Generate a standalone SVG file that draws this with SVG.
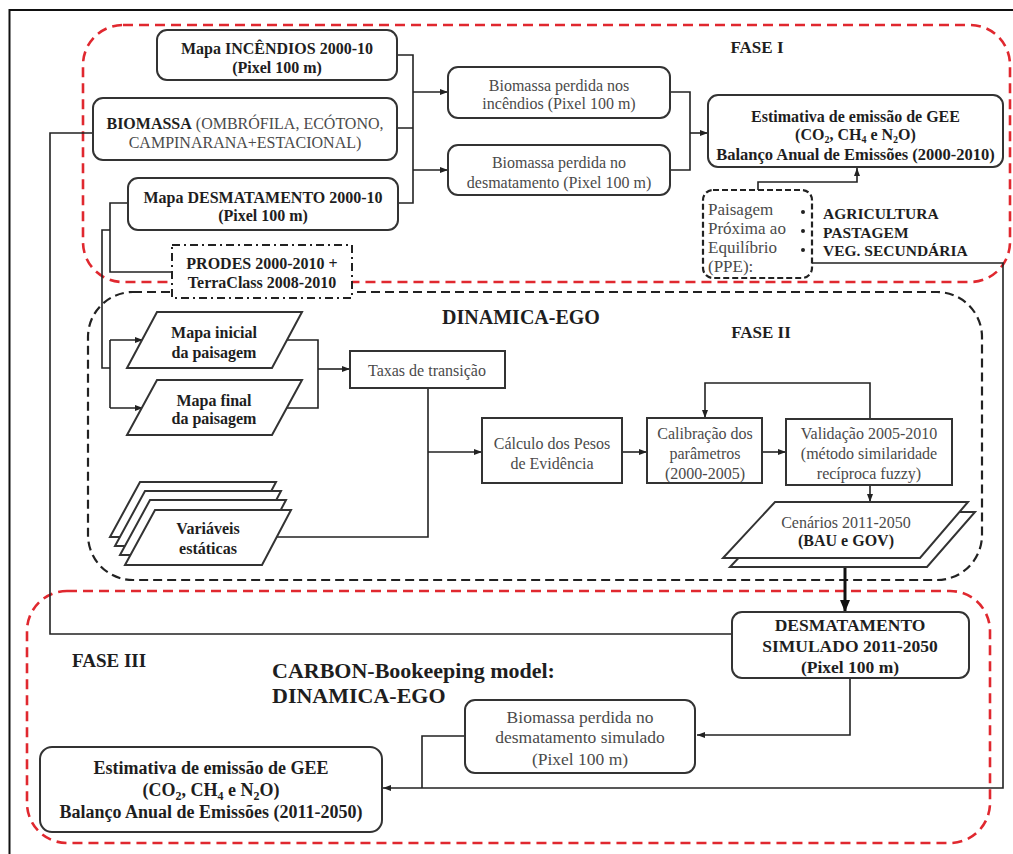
<svg xmlns="http://www.w3.org/2000/svg" width="1013" height="854" viewBox="0 0 1013 854">
<defs>
<style>
text{font-family:"Liberation Serif","Times New Roman",serif;}
.b{font-weight:bold;fill:#1e1e1e;}
.r{fill:#4a4a4a;}
.c{text-anchor:middle;}
.box{fill:#fff;stroke:#333;stroke-width:2;}
.sq{fill:#fff;stroke:#333;stroke-width:2;}
.con{fill:none;stroke:#222;stroke-width:1.6;}
.red{fill:none;stroke:#e0282f;stroke-width:2.6;stroke-dasharray:10 6;}
.blk{fill:none;stroke:#222;stroke-width:2.2;stroke-dasharray:9 5;}
</style>
<marker id="ah" markerWidth="8" markerHeight="6" refX="8" refY="3" orient="auto" markerUnits="userSpaceOnUse"><path d="M0,0 L8,3 L0,6 z" fill="#222"/></marker>
<marker id="ahb" markerWidth="12" markerHeight="10" refX="11" refY="5" orient="auto" markerUnits="userSpaceOnUse"><path d="M0,0 L12,5 L0,10 z" fill="#111"/></marker>
</defs>
<rect x="0" y="0" width="1013" height="854" fill="#fff"/>
<g id="frame"><path d="M9.5,854 V10 H1013" fill="none" stroke="#111" stroke-width="2"/></g>
<g id="containers">
<rect class="red" x="83" y="25" width="927" height="257" rx="40"/>
<rect class="blk" x="88" y="292" width="894" height="288" rx="45"/>
<rect class="red" x="27" y="591" width="963" height="252" rx="40"/>
<text class="b c" x="757" y="53" font-size="17">FASE I</text>
<text class="b c" x="521" y="324" font-size="20">DINAMICA-EGO</text>
<text class="b c" x="761" y="338" font-size="17">FASE II</text>
<text class="b" x="72" y="667" font-size="19">FASE III</text>
<text class="b" x="272" y="678" font-size="22">CARBON-Bookeeping model:</text>
<text class="b" x="272" y="703" font-size="22">DINAMICA-EGO</text>
</g>
<g id="connectors">
<path class="con" d="M397,55 H413 V203 H398 M397,128 H413"/>
<path class="con" d="M413,92 H448" marker-end="url(#ah)"/>
<path class="con" d="M413,170 H448" marker-end="url(#ah)"/>
<path class="con" d="M670,92 H690 V170 H670"/>
<path class="con" d="M690,133 H708" marker-end="url(#ah)"/>
<path class="con" d="M758,190 V182 H857 V168" marker-end="url(#ah)"/>
<path class="con" d="M812,263 H1003 V788 H383" marker-end="url(#ah)"/>
<path class="con" d="M465,736 H422 V788"/>
<path class="con" d="M850,678 V735 H697" marker-end="url(#ah)"/>
<path class="con" d="M731,634 H50 V133 H93"/>
<path class="con" d="M128,203 H110 V272 H172"/>
<path class="con" d="M110,230 H102 V368 H110"/>
<path class="con" d="M110,340 V408"/>
<path class="con" d="M110,340 H143" marker-end="url(#ah)"/>
<path class="con" d="M110,408 H143" marker-end="url(#ah)"/>
<path class="con" d="M287,340 H318 V408 H287"/>
<path class="con" d="M318,369 H350" marker-end="url(#ah)"/>
<path class="con" d="M428,388 V537 H277"/>
<path class="con" d="M428,452 H482" marker-end="url(#ah)"/>
<path class="con" d="M622,452 H647" marker-end="url(#ah)"/>
<path class="con" d="M762,452 H786" marker-end="url(#ah)"/>
<path class="con" d="M870,419 V383 H705 V418" marker-end="url(#ah)"/>
<path class="con" d="M870,485 V502" marker-end="url(#ah)"/>
<path d="M845,560 V611" fill="none" stroke="#111" stroke-width="3" marker-end="url(#ahb)"/>
</g>
<g id="n-incendios">
<rect class="box" x="157" y="30" width="240" height="50" rx="10"/>
<text class="b c" x="277" y="53.5" font-size="16">Mapa INCÊNDIOS  2000-10</text>
<text class="b c" x="277" y="72.5" font-size="16">(Pixel 100 m)</text>
</g>
<g id="n-biomassa">
<rect class="box" x="93" y="98" width="304" height="62" rx="10"/>
<text class="c" x="245" y="128.5" font-size="16"><tspan class="b">BIOMASSA</tspan><tspan class="r"> (OMBRÓFILA, ECÓTONO,</tspan></text>
<text class="r c" x="245" y="147.5" font-size="16">CAMPINARANA+ESTACIONAL)</text>
</g>
<g id="n-desmat">
<rect class="box" x="128" y="178" width="270" height="52" rx="10"/>
<text class="b c" x="263" y="202.5" font-size="16">Mapa DESMATAMENTO  2000-10</text>
<text class="b c" x="263" y="220.5" font-size="16">(Pixel 100 m)</text>
</g>
<g id="n-prodes">
<rect x="172" y="245" width="180" height="53" fill="#fff" stroke="#222" stroke-width="2" stroke-dasharray="8 4 2 4"/>
<text class="b c" x="262" y="268.5" font-size="16">PRODES 2000-2010 +</text>
<text class="b c" x="262" y="287.5" font-size="16">TerraClass  2008-2010</text>
</g>
<g id="n-bio-inc">
<rect class="box" x="448" y="67" width="222" height="51" rx="10"/>
<text class="r c" x="559" y="90.5" font-size="16">Biomassa perdida  nos</text>
<text class="r c" x="559" y="108.5" font-size="16">incêndios  (Pixel 100 m)</text>
</g>
<g id="n-bio-des">
<rect class="box" x="448" y="145" width="222" height="50" rx="10"/>
<text class="r c" x="559" y="167.5" font-size="16">Biomassa perdida  no</text>
<text class="r c" x="559" y="187.5" font-size="16">desmatamento  (Pixel 100 m)</text>
</g>
<g id="n-estim1">
<rect class="box" x="708" y="95" width="295" height="72" rx="10"/>
<text class="b c" x="855.5" y="121.5" font-size="16">Estimativa  de  emissão  de  GEE</text>
<text class="b c" x="855.5" y="139.5" font-size="16">(CO<tspan font-size="10" dy="3">2</tspan><tspan dy="-3">, CH</tspan><tspan font-size="10" dy="3">4</tspan><tspan dy="-3"> e N</tspan><tspan font-size="10" dy="3">2</tspan><tspan dy="-3">O)</tspan></text>
<text class="b c" x="855.5" y="159.5" font-size="16.5">Balanço Anual  de  Emissões  (2000-2010)</text>
</g>
<g id="n-ppe">
<rect x="703" y="190" width="109" height="88" rx="10" fill="#fff" stroke="#222" stroke-width="2.2" stroke-dasharray="6 3"/>
<text class="r" x="708" y="215" font-size="17">Paisagem</text>
<text class="r" x="708" y="234" font-size="17">Próxima ao</text>
<text class="r" x="708" y="253" font-size="17">Equilíbrio</text>
<text class="r" x="708" y="272" font-size="17">(PPE):</text>
<circle cx="803" cy="212" r="2" fill="#222"/>
<circle cx="803" cy="231" r="2" fill="#222"/>
<circle cx="803" cy="250" r="2" fill="#222"/>
<text class="b" x="823" y="219" font-size="15.5">AGRICULTURA</text>
<text class="b" x="823" y="238" font-size="15.5">PASTAGEM</text>
<text class="b" x="823" y="256" font-size="15.5">VEG. SECUNDÁRIA</text>
</g>
<g id="n-mapa-inicial">
<polygon class="sq" points="157,312 302,312 272,368 127,368"/>
<text class="b c" x="214" y="337.5" font-size="16">Mapa inicial</text>
<text class="b c" x="214" y="357.5" font-size="16">da paisagem</text>
</g>
<g id="n-mapa-final">
<polygon class="sq" points="157,380 302,380 272,435 127,435"/>
<text class="b c" x="214" y="405.5" font-size="16">Mapa final</text>
<text class="b c" x="214" y="423.5" font-size="16">da paisagem</text>
</g>
<g id="n-variaveis">
<polygon class="sq" points="140,482 276,482 247,537 110,537"/>
<polygon class="sq" points="145,491 281,491 252,546 115,546"/>
<polygon class="sq" points="150,500 286,500 257,555 120,555"/>
<polygon class="sq" points="155,510 291,510 262,565 125,565"/>
<text class="b c" x="208" y="533.5" font-size="16">Variáveis</text>
<text class="b c" x="208" y="553.5" font-size="16">estáticas</text>
</g>
<g id="n-taxas">
<rect class="sq" x="350" y="351" width="155" height="37"/>
<text class="r" x="368" y="375.5" font-size="16">Taxas de transição</text>
</g>
<g id="n-calculo">
<rect class="sq" x="482" y="418" width="140" height="65"/>
<text class="r c" x="552" y="448.5" font-size="16">Cálculo dos Pesos</text>
<text class="r c" x="552" y="468.5" font-size="16">de Evidência</text>
</g>
<g id="n-calib">
<rect class="sq" x="647" y="418" width="115" height="65"/>
<text class="r c" x="705" y="438.5" font-size="16">Calibração  dos</text>
<text class="r c" x="705" y="458.5" font-size="16">parâmetros</text>
<text class="r c" x="705" y="478.5" font-size="16">(2000-2005)</text>
</g>
<g id="n-valid">
<rect class="sq" x="786" y="419" width="166" height="66"/>
<text class="r c" x="869" y="438.5" font-size="16">Validação  2005-2010</text>
<text class="r c" x="869" y="458.5" font-size="16">(método  similaridade</text>
<text class="r c" x="869" y="478.5" font-size="16">recíproca  fuzzy)</text>
</g>
<g id="n-cenarios">
<polygon class="sq" points="782,512 975,512 927,567 730,567"/>
<polygon class="sq" points="775,502 968,502 920,558 723,558"/>
<text class="r c" x="846" y="527.5" font-size="16">Cenários 2011-2050</text>
<text class="b c" x="846" y="545.5" font-size="16">(BAU e GOV)</text>
</g>
<g id="n-desmat-sim">
<rect class="box" x="732" y="612" width="237" height="66" rx="10"/>
<text class="b c" x="850" y="631" font-size="17.5">DESMATAMENTO</text>
<text class="b c" x="850" y="652" font-size="17.5">SIMULADO  2011-2050</text>
<text class="b c" x="850" y="673" font-size="17.5">(Pixel 100 m)</text>
</g>
<g id="n-bio-sim">
<rect class="box" x="465" y="700" width="230" height="73" rx="10"/>
<text class="r c" x="580" y="723" font-size="17.5">Biomassa perdida  no</text>
<text class="r c" x="580" y="743" font-size="17.5">desmatamento  simulado</text>
<text class="r c" x="580" y="765" font-size="17.5">(Pixel 100 m)</text>
</g>
<g id="n-estim2">
<rect class="box" x="40" y="747" width="342" height="85" rx="12"/>
<text class="b c" x="211" y="774" font-size="18">Estimativa  de  emissão de GEE</text>
<text class="b c" x="211" y="796" font-size="18">(CO<tspan font-size="12" dy="4">2</tspan><tspan dy="-4">, CH</tspan><tspan font-size="12" dy="4">4</tspan><tspan dy="-4"> e N</tspan><tspan font-size="12" dy="4">2</tspan><tspan dy="-4">O)</tspan></text>
<text class="b c" x="211" y="818" font-size="18">Balanço Anual  de  Emissões  (2011-2050)</text>
</g>
</svg>
